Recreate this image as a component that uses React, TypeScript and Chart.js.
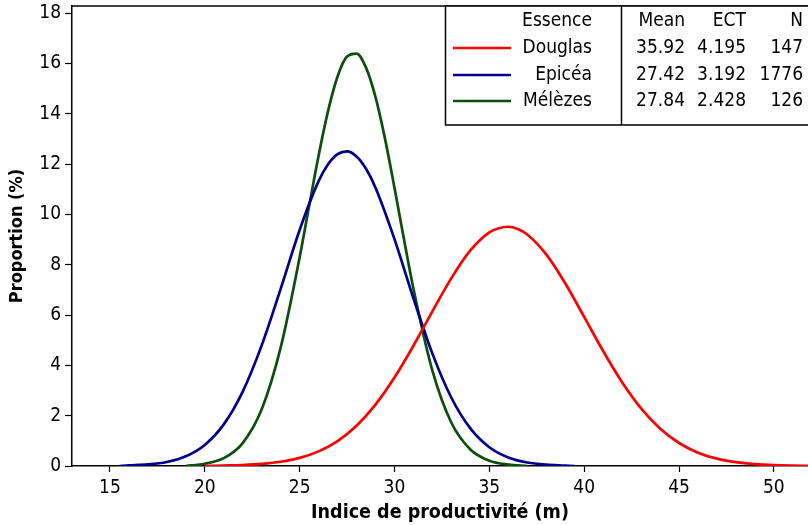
import React, { useEffect, useRef } from "react";
import { Chart, registerables } from "chart.js";

Chart.register(...registerables);

const FONT = "'DejaVu Sans Condensed', 'DejaVu Sans', Tahoma, sans-serif";

const seriesNames = ["Douglas", "Epicéa", "Mélèzes"];
const seriesColors = ["#ff0000", "#00008f", "#0b4f0b"];
const meanLabels = ["35.92", "27.42", "27.84"];
const ectLabels = ["4.195", "3.192", "2.428"];
const nLabels = ["147", "1776", "126"];

const douglasX = [20, 21, 22, 23, 24, 25, 26, 27, 28, 29, 30, 31, 32, 33, 34, 35, 35.5, 36, 36.5, 37, 38, 39, 40, 41, 42, 43, 44, 45, 46, 47, 48, 49, 50, 51, 52];
const douglasY = [0.0, 0.017, 0.039, 0.083, 0.168, 0.321, 0.581, 0.992, 1.6, 2.439, 3.513, 4.78, 6.145, 7.465, 8.565, 9.284, 9.45, 9.508, 9.42, 9.2, 8.41, 7.264, 5.926, 4.568, 3.328, 2.289, 1.488, 0.914, 0.53, 0.291, 0.151, 0.074, 0.034, 0.015, 0.006];

const epiceaX = [15.5, 16, 17, 18, 19, 20, 21, 22, 23, 24, 25, 26, 26.5, 27, 27.5, 28, 28.5, 29, 30, 31, 32, 33, 34, 35, 36, 37, 38, 39, 39.5];
const epiceaY = [0.0, 0.021, 0.061, 0.161, 0.386, 0.838, 1.654, 2.957, 4.793, 7.041, 9.378, 11.32, 11.99, 12.39, 12.5, 12.3, 11.81, 11.06, 9.016, 6.664, 4.465, 2.712, 1.494, 0.745, 0.337, 0.138, 0.051, 0.017, 0.0];

const melezesX = [19, 20, 21, 22, 23, 24, 25, 25.5, 26, 26.5, 27, 27.5, 28, 28.5, 29, 29.5, 30, 30.5, 31, 32, 33, 34, 35, 36, 37];
const melezesY = [0.0, 0.09, 0.311, 0.911, 2.253, 4.704, 8.289, 10.33, 12.33, 14.11, 15.48, 16.27, 16.39, 15.83, 14.66, 13.01, 11.06, 9.015, 7.044, 3.787, 1.718, 0.658, 0.212, 0.058, 0.0];

const seriesX = [douglasX, epiceaX, melezesX];
const seriesY = [douglasY, epiceaY, melezesY];

const xTitle = "Indice de productivité (m)";
const yTitle = "Proportion (%)";
const legendHeaders = ["Essence", "Mean", "ECT", "N"];

const framePlugin = {
  id: "frameAndTable",
  afterDraw(chart: any) {
    const ctx = chart.ctx;
    const { left, top, right } = chart.chartArea;
    ctx.save();
    ctx.strokeStyle = "#000";
    ctx.lineWidth = 1.5;
    ctx.beginPath();
    ctx.moveTo(left, top);
    ctx.lineTo(right, top);
    ctx.stroke();

    // table box
    const bx = 445.5, by = top, bw = 808 - bx, bh = 119;
    ctx.fillStyle = "#fff";
    ctx.fillRect(bx, by, bw, bh);
    ctx.strokeRect(bx, by, bw + 5, bh);
    ctx.beginPath();
    ctx.moveTo(621.5, by);
    ctx.lineTo(621.5, by + bh);
    ctx.stroke();

    ctx.font = "19px " + FONT;
    ctx.fillStyle = "#000";
    ctx.textBaseline = "middle";
    ctx.textAlign = "right";
    const rowY = [21, 48, 75, 101];
    ctx.fillText(legendHeaders[0], 592, rowY[0]);
    ctx.fillText(legendHeaders[1], 685, rowY[0]);
    ctx.fillText(legendHeaders[2], 746, rowY[0]);
    ctx.fillText(legendHeaders[3], 803, rowY[0]);
    for (let i = 0; i < seriesNames.length; i++) {
      const y = rowY[i + 1];
      ctx.strokeStyle = seriesColors[i];
      ctx.lineWidth = 2.5;
      ctx.beginPath();
      ctx.moveTo(453, y);
      ctx.lineTo(511, y);
      ctx.stroke();
      ctx.fillStyle = "#000";
      ctx.fillText(seriesNames[i], 592, y);
      ctx.fillText(meanLabels[i], 685, y);
      ctx.fillText(ectLabels[i], 746, y);
      ctx.fillText(nLabels[i], 803, y);
    }
    ctx.restore();
  },
};

export default function App() {
  const ref = useRef<HTMLCanvasElement | null>(null);
  useEffect(() => {
    document.body.style.margin = "0";
    const canvas = ref.current;
    if (!canvas) return;
    const chart = new Chart(canvas, {
      type: "line",
      data: {
        datasets: seriesNames.map((name, i) => ({
          label: name,
          data: seriesX[i].map((x, j) => ({ x, y: seriesY[i][j] })),
          borderColor: seriesColors[i],
          backgroundColor: seriesColors[i],
          borderWidth: 2.7,
          pointRadius: 0,
          fill: false,
          cubicInterpolationMode: "monotone" as const,
        })),
      },
      options: {
        animation: false,
        responsive: false,
        maintainAspectRatio: false,
        layout: { autoPadding: false, padding: { top: 6, right: 0, left: 0, bottom: 0 } },
        plugins: { legend: { display: false }, tooltip: { enabled: false } },
        scales: {
          x: {
            type: "linear",
            min: 13,
            max: 51.8,
            grid: { drawOnChartArea: false, color: "#000", tickLength: 6, tickWidth: 1.2 },
            border: { color: "#000", width: 1.5 },
            ticks: { stepSize: 5, includeBounds: false, color: "#000", font: { family: FONT, size: 19 }, padding: 5, maxRotation: 0 },
            title: { display: true, text: xTitle, color: "#000", font: { family: FONT, size: 19.5, weight: "bold" }, padding: { top: 0, bottom: 0 } },
            afterFit: (s: any) => { s.height = 59; s.paddingLeft = 0; s.paddingRight = 0; },
          },
          y: {
            type: "linear",
            min: 0,
            max: 18.28,
            grid: { drawOnChartArea: false, color: "#000", tickLength: 7, tickWidth: 1.2 },
            border: { color: "#000", width: 1.5 },
            ticks: { stepSize: 2, includeBounds: false, color: "#000", font: { family: FONT, size: 19 }, padding: 4 },
            title: { display: true, text: yTitle, color: "#000", font: { family: FONT, size: 18, weight: "bold" }, padding: { top: 7, bottom: 0 } },
            afterFit: (s: any) => { s.width = 72; s.paddingTop = 0; s.paddingBottom = 0; },
          },
        },
      },
      plugins: [framePlugin],
    } as any);
    return () => chart.destroy();
  }, []);
  return (
    <div style={{ width: 808, height: 525 }}>
      <canvas ref={ref} width={808} height={525} style={{ display: "block" }} />
    </div>
  );
}
